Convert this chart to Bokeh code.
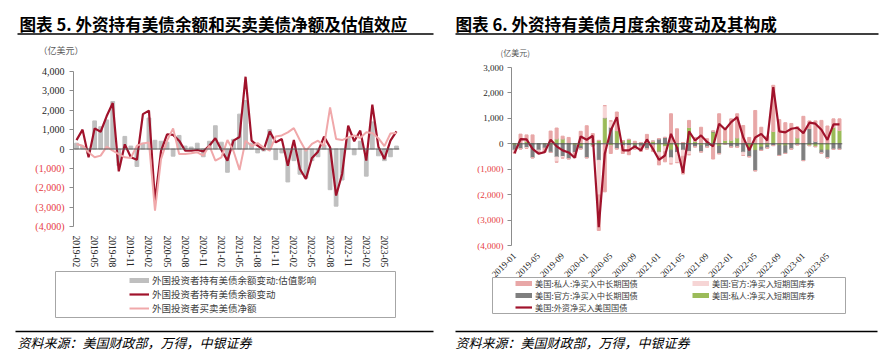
import pandas as pd
from bokeh.plotting import figure
from bokeh.models import (ColumnDataSource, Span, Legend, LegendItem, FixedTicker, Range1d, GridBox)
from bokeh.layouts import column
from bokeh.embed import file_html
from bokeh.resources import INLINE
from bokeh.core.properties import value

# ---------------- data: chart 5 ----------------
months5 = [str(m) for m in pd.period_range("2019-02", "2023-07", freq="M")]
valuation5 = [300, 150, -250, 1450, 1150, 1500, 2450, -850, 650, 150,
              -900, 300, 1600, 450, 400, 350, -370, 700, 150, 100,
              300, -400, 400, 1200, 350, -1200, 500, 1800, 2500, 300,
              -200, -100, 1000, -550, -200, -1700, -600, -1300, -1500, -600,
              -400, 200, -2100, -2950, -1600, 600, -300, 400, -1400, 1400,
              -350, -600, -400, 150]
holding_chg5 = [460, 1000, -430, 1065, 890, 1700, 2370, -1150, 240, -430,
                -560, 1800, 1980, -2700, -100, 760, 730, 430, -90, -90,
                -50, -120, 170, 560, -50, -600, 430, 620, 3730, 430,
                170, -50, 910, 340, 515, -860, 460, -1030, -1550, -460,
                -140, 640, 90, -2400, -1290, 1200, 400, 950, -600, 2290,
                120, -520, 430, 910]
net_buy5 = [260, 170, -170, -430, -340, 120, -90, -260, -430, -460,
            170, 290, 340, -3180, -520, 430, 1065, -260, -260, -220,
            -170, -340, 170, -600, -430, 460, -100, -1080, 430, 150,
            300, 80, -90, 650, 700, 860, 1080, 450, -100, 260,
            430, 150, 2150, 515, 460, 600, 700, 570, 860, 830,
            560, 150, 800, 830]
yticks5 = [4000, 3000, 2000, 1000, 0, -1000, -2000, -3000, -4000]
legend5 = ["外国投资者持有美债余额变动:估值影响", "外国投资者持有美债余额变动", "外国投资者买卖美债净额"]

# ---------------- data: chart 6 ----------------
months6 = [str(m) for m in pd.period_range("2019-01", "2023-07", freq="M")]
priv_bill6 = [-50, 0, 100, 0, 0, -30, -40, 200, 200, 20,
              -50, -100, 10, -50, 130, 1020, -80, 520, 120, 170,
              -50, 40, 40, 100, -330, -110, -250, -140, 50, 650,
              100, -70, -30, 460, -90, 140, 150, 240, 0, -180,
              -260, -130, -70, 490, -60, -80, 0, 240, 30, -70,
              -110, -250, -250, 650, 530]
off_long6 = [-200, -200, -150, -550, -250, -150, -300, -520, -500, -590,
             -300, -100, -550, -35, -650, -10, 650, -200, -80, -80,
             -150, -100, -200, -50, 200, 250, -300, -200, -250, -300,
             -120, -250, -100, 40, -300, 0, -130, -130, -330, -330,
             -800, -130, -100, -70, -400, -300, -210, -40, -660, 600,
             100, -120, -300, -220, -220]
off_bill6 = [-100, 10, -30, 0, -40, 0, 0, -200, -60, 0,
             0, 0, 0, 0, -1360, 480, 250, 0, 0, 0,
             0, 0, 0, 0, -150, -200, -240, -400, -240, -130,
             0, 0, 0, 0, 0, 0, 0, 0, -130, 0,
             0, 0, 0, 0, 0, 0, 0, 0, 0, 0,
             0, 0, 0, 0, 0]
priv_long6 = [-20, 370, 250, 350, -100, -150, 500, 420, 100, 230,
              -200, 490, 700, 400, -1400, -1880, -300, 730, -300, -350,
              100, -200, 330, -250, -350, -400, 1180, 590, -700, 270,
              150, 650, 200, -600, 1180, 420, 830, 940, 720, 250,
              1310, 650, 300, 1810, 950, 830, 800, 430, 1050, 300,
              800, 920, 700, 330, 450]
net_total6 = [-370, 180, 170, -200, -390, -330, 160, -100, -260, -340,
              -550, 290, 160, 315, -3280, -390, 520, 1050, -260, -260,
              -100, -260, 170, -200, -630, -460, 390, -150, -1140, 490,
              130, 330, 70, -100, 790, 560, 850, 1050, 260, -260,
              250, 390, 130, 2230, 490, 450, 590, 630, 420, 830,
              790, 550, 150, 760, 760]
yticks6 = [3000, 2000, 1000, 0, -1000, -2000, -3000, -4000]
legend6 = ["美国:私人:净买入中长期国债", "美国:官方:净买入短期国库券",
           "美国:官方:净买入中长期国债", "美国:私人:净买入短期国库券",
           "美国:外资净买入美国国债"]

title5 = "图表 5. 外资持有美债余额和买卖美债净额及估值效应"
title6 = "图表 6. 外资持有美债月度余额变动及其构成"
unit_txt5 = "（亿美元）"
unit_txt6 = "(亿美元)"
source_txt = "资料来源：美国财政部，万得，中银证券"

CJK = "Noto Sans CJK SC"
SERIF = "Liberation Serif"
DARK = "#A0122B"
PINK_LINE = "#F0A8AA"
RED_LBL = "#E63B3F"
W, H = 894, 361


def fmt(v):
    return f"{v:,}" if v >= 0 else f"({-v:,})"


def style_axes(p, ticks, xticks, xlabels, orient, xsize):
    p.grid.visible = False
    p.yaxis.ticker = FixedTicker(ticks=ticks)
    p.yaxis.axis_line_color = "#8C8C8C"
    p.yaxis.major_tick_line_color = "#8C8C8C"
    p.yaxis.major_tick_out = 4
    p.yaxis.major_tick_in = 0
    p.yaxis.minor_tick_line_color = None
    p.yaxis.major_label_text_color = None
    p.xaxis.ticker = FixedTicker(ticks=xticks)
    p.xaxis.major_label_overrides = dict(zip(xticks, xlabels))
    p.xaxis.major_label_orientation = orient
    p.xaxis.axis_line_color = None
    p.xaxis.major_tick_line_color = None
    p.xaxis.minor_tick_line_color = None
    p.xaxis.major_label_text_font = SERIF
    p.xaxis.major_label_text_font_size = xsize
    p.xaxis.major_label_text_color = "#262626"
    p.xaxis.major_label_standoff = 3
    p.add_layout(Span(location=0, dimension="width", line_color="#595959", line_width=1))


# ================= chart 5 =================
BL1, FW1, BR1, BT1, FH1 = 73, 326, 48, 71, 155
p1 = figure(frame_width=FW1, frame_height=FH1, min_border_left=BL1, min_border_right=BR1,
            min_border_top=BT1, min_border_bottom=H - BT1 - FH1,
            x_range=Range1d(-0.5, len(months5) - 0.5), y_range=Range1d(-4000, 4000),
            output_backend="svg", toolbar_location=None, outline_line_color=None)
x5 = list(range(len(months5)))
xt5 = x5[::3]
style_axes(p1, yticks5, xt5, [months5[i] for i in xt5], "vertical", "9.5px")
src5 = ColumnDataSource(dict(x=x5, val=valuation5, hold=holding_chg5, net=net_buy5))
p1.vbar(x="x", top="val", width=0.62, color="#BFBFBF", source=src5)
p1.line(x="x", y="hold", line_color=DARK, line_width=2.2, source=src5)
p1.line(x="x", y="net", line_color=PINK_LINE, line_width=2, source=src5)

# ================= chart 6 =================
BL2, FW2, BR2, BT2, FH2 = 64, 331, 52, 67, 178
p2 = figure(frame_width=FW2, frame_height=FH2, min_border_left=BL2, min_border_right=BR2,
            min_border_top=BT2, min_border_bottom=H - BT2 - FH2,
            x_range=Range1d(-0.5, len(months6) - 0.5), y_range=Range1d(-4000, 3000),
            output_backend="svg", toolbar_location=None, outline_line_color=None)
x6 = list(range(len(months6)))
xt6 = x6[::4]
style_axes(p2, yticks6, xt6, [months6[i] for i in xt6], 0.785398, "9px")
stack_names = ["g", "k", "lp", "p"]
stack_vals = [priv_bill6, off_long6, off_bill6, priv_long6]
stack_cols = ["#9BBB59", "#7F7F7F", "#F6D5D5", "#E8A7A7"]
d6 = dict(x=x6, net=net_total6)
for n, vals in zip(stack_names, stack_vals):
    d6[n + "_pos"] = [v if v > 0 else 0 for v in vals]
    d6[n + "_neg"] = [v if v < 0 else 0 for v in vals]
src6 = ColumnDataSource(d6)
p2.vbar_stack([n + "_pos" for n in stack_names], x="x", width=0.5, color=stack_cols, source=src6)
p2.vbar_stack([n + "_neg" for n in stack_names], x="x", width=0.5, color=stack_cols, source=src6)
p2.line(x="x", y="net", line_color=DARK, line_width=2.2, source=src6)

# ================= overlay (titles, tick labels, legends, notes) =================
s5 = 8000 / FH1
s6 = 7000 / FH2
ov = figure(width=W, height=H, x_range=Range1d(0, W), y_range=Range1d(H, 0),
            min_border=0, min_border_left=0, min_border_right=0, min_border_top=0,
            min_border_bottom=0, x_axis_location=None, y_axis_location=None,
            output_backend="svg", toolbar_location=None, outline_line_color=None,
            background_fill_color=None, border_fill_color=None)
ov.grid.visible = False
ov.extra_y_ranges = {
    "v5": Range1d(start=-4000 - (H - BT1 - FH1) * s5, end=4000 + BT1 * s5),
    "v6": Range1d(start=-4000 - (H - BT2 - FH2) * s6, end=3000 + BT2 * s6),
}

# y tick labels (black for >= 0, red in parentheses for < 0)
for ticks, rng, xr, size in [(yticks5, "v5", 64, "10px"), (yticks6, "v6", 503, "9px")]:
    ts = ColumnDataSource(dict(x=[xr] * len(ticks), y=ticks, t=[fmt(v) for v in ticks],
                               c=["#262626" if v >= 0 else RED_LBL for v in ticks]))
    ov.text(x="x", y="y", text="t", text_color="c", source=ts, y_range_name=rng,
            text_align="right", text_baseline="middle",
            text_font=value(SERIF), text_font_size=value(size))

# titles and rules
ov.text(x=[19, 455], y=[23, 23], text=[title5, title6], text_font=value(CJK),
        text_font_size=value("16.6px"), text_font_style="bold", text_baseline="middle",
        text_color="#000000")
ov.segment(x0=[17, 455], y0=[33.5, 33.5], x1=[433, 878], y1=[33.5, 33.5],
           line_color="#000000", line_width=1.5)
ov.text(x=[38], y=[50], text=[unit_txt5], text_font=value(CJK), text_font_size=value("9px"),
        text_baseline="middle", text_color="#595959")
ov.text(x=[500], y=[52], text=[unit_txt6], text_font=value(CJK), text_font_size=value("8px"),
        text_baseline="middle", text_color="#595959")
ov.segment(x0=[15, 455], y0=[331, 331], x1=[433, 877], y1=[331, 331],
           line_color="#000000", line_width=1.5)
ov.text(x=[17, 455], y=[342, 342], text=[source_txt, source_txt], text_font=value(CJK),
        text_font_size=value("13px"), text_font_style="italic", text_baseline="middle",
        text_color="#000000")

# legend boxes
ov.quad(left=[55, 492], right=[395, 845], top=[271, 277], bottom=[317, 313],
        fill_color=None, line_color="#A6A6A6", line_width=1)

# legends (proxy swatches, data kept outside the visible area)
px, py = [-30, -20], [-30, -30]
lg_bar = ov.line(x=px, y=py, line_color="#BFBFBF", line_width=5)
lg_dark = ov.line(x=px, y=py, line_color=DARK, line_width=2.2)
lg_pink = ov.line(x=px, y=py, line_color=PINK_LINE, line_width=2)
common = dict(padding=0, margin=0, spacing=0, label_standoff=3, label_text_font=CJK,
              label_text_color="#404040", border_line_color=None, background_fill_alpha=0)
leg1 = Legend(items=[LegendItem(label=legend5[0], renderers=[lg_bar]),
                     LegendItem(label=legend5[1], renderers=[lg_dark]),
                     LegendItem(label=legend5[2], renderers=[lg_pink])],
              location=(129, H - 315), label_height=14, glyph_height=14, glyph_width=20,
              label_text_font_size="9.5px", **common)
sw = {c: ov.line(x=px, y=py, line_color=c, line_width=5) for c in stack_cols}
sw_line = ov.line(x=px, y=py, line_color=DARK, line_width=2.2)
legA = Legend(items=[LegendItem(label=legend6[0], renderers=[sw["#E8A7A7"]]),
                     LegendItem(label=legend6[2], renderers=[sw["#7F7F7F"]]),
                     LegendItem(label=legend6[4], renderers=[sw_line])],
              location=(515, H - 313), label_height=12, glyph_height=12, glyph_width=17,
              label_text_font_size="8.2px", **common)
legB = Legend(items=[LegendItem(label=legend6[1], renderers=[sw["#F6D5D5"]]),
                     LegendItem(label=legend6[3], renderers=[sw["#9BBB59"]])],
              location=(692, H - 301), label_height=12, glyph_height=12, glyph_width=17,
              label_text_font_size="8.2px", **common)
for lg in (leg1, legA, legB):
    ov.add_layout(lg, "center")

layout = GridBox(children=[(column(p1), 0, 0), (column(p2), 0, 1), (column(ov), 0, 0, 1, 2)])
open("out.html", "w").write(file_html(layout, INLINE))
